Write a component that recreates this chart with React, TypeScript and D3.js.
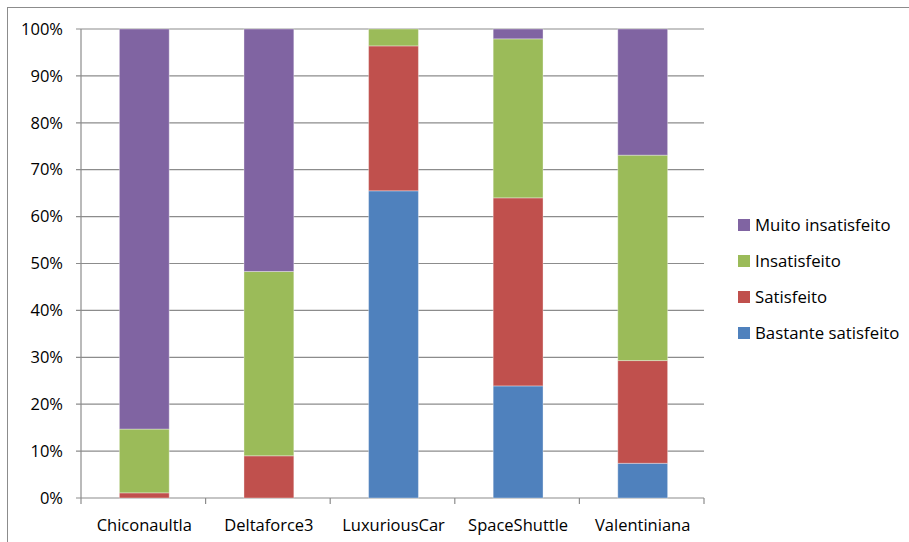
import React from "react";
import * as d3 from "d3";

const categories = ["Chiconaultla", "Deltaforce3", "LuxuriousCar", "SpaceShuttle", "Valentiniana"];
const seriesNames = ["Bastante satisfeito", "Satisfeito", "Insatisfeito", "Muito insatisfeito"];
const bastante = [0, 0, 65.5, 23.9, 7.4];
const satisfeito = [1.1, 9.0, 30.9, 40.1, 21.9];
const insatisfeito = [13.6, 39.3, 3.6, 33.9, 43.8];
const muito = [85.3, 51.7, 0, 2.1, 26.9];
const seriesColors = ["#4F81BD", "#C0504D", "#9BBB59", "#8064A2"];
const yTicks = [0, 10, 20, 30, 40, 50, 60, 70, 80, 90, 100];

const W = 909;
const H = 542;
const M = { left: 81, right: 704, top: 29, bottom: 498 };
const FONT = "'Open Sans', sans-serif";

export default function App() {
  const x = d3.scaleBand<string>().domain(categories).range([M.left + 1, M.right + 1]).paddingInner(0.6).paddingOuter(0.3);
  const xb = d3.scaleBand<string>().domain(categories).range([M.left, M.right]);
  const y = d3.scaleLinear().domain([0, 100]).range([M.bottom, M.top]);

  const rows = categories.map((c, i) => ({
    cat: c,
    s0: bastante[i],
    s1: satisfeito[i],
    s2: insatisfeito[i],
    s3: muito[i],
  }));
  const stack = d3.stack<any>().keys(["s0", "s1", "s2", "s3"]);
  const layers = stack(rows);

  const legendOrder = [3, 2, 1, 0];

  return (
    <svg width={W} height={H} style={{ position: "absolute", left: 0, top: 0 }}>
      <rect x={0} y={0} width={W} height={H} fill="#fff" />
      <rect x={7.5} y={7.5} width={W + 10} height={H + 10} fill="none" stroke="#8c8c8c" strokeWidth={1} />
      {yTicks.map((t) => (
        <g key={t}>
          <line x1={M.left - 5} x2={M.right} y1={y(t)} y2={y(t)} stroke="#8c8c8c" strokeWidth={1.2} />
          <text x={63} y={y(t)} dy="0.35em" textAnchor="end" fontFamily={FONT} fontSize={16.5} fill="#000">
            {t}%
          </text>
        </g>
      ))}
      <line x1={M.left} x2={M.left} y1={M.top} y2={M.bottom} stroke="#8c8c8c" strokeWidth={1.2} />
      {categories.concat([""]).map((c, i) => {
        const xx = i < categories.length ? xb(c)! : M.right;
        return <line key={"t" + i} x1={xx} x2={xx} y1={M.bottom} y2={M.bottom + 6} stroke="#8c8c8c" strokeWidth={1.2} />;
      })}
      {layers.map((layer, li) => (
        <g key={li}>
          {layer.map((d, j) => {
            const h = y(d[0]) - y(d[1]);
            if (h <= 0) return null;
            return (
              <rect
                key={j}
                x={x(categories[j])!}
                y={y(d[1])}
                width={x.bandwidth()}
                height={h}
                fill={seriesColors[li]}
                stroke="rgba(255,255,255,0.35)"
                strokeWidth={1}
              />
            );
          })}
        </g>
      ))}
      {categories.map((c) => (
        <text key={c} x={xb(c)! + xb.bandwidth() / 2 + 1} y={525} dy="0.35em" textAnchor="middle" fontFamily={FONT} fontSize={16.5} fill="#000">
          {c}
        </text>
      ))}
      {legendOrder.map((si, k) => {
        const cy = 225 + k * 36;
        return (
          <g key={si}>
            <rect x={738} y={cy - 6} width={12} height={12} fill={seriesColors[si]} />
            <text x={755} y={cy} dy="0.35em" fontFamily={FONT} fontSize={16.8} fill="#000">
              {seriesNames[si]}
            </text>
          </g>
        );
      })}
    </svg>
  );
}
